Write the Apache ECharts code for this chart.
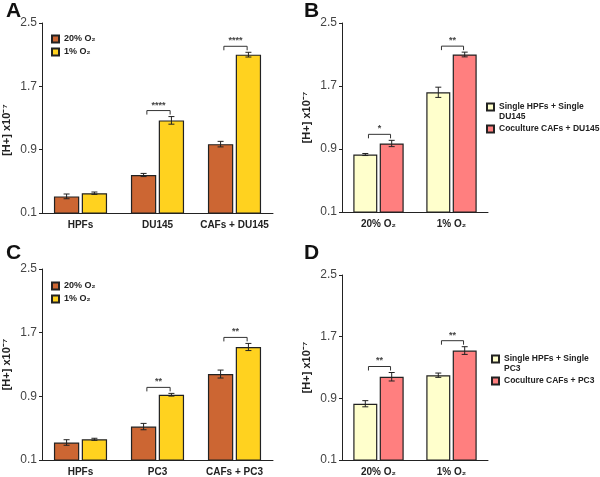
<!DOCTYPE html>
<html>
<head>
<meta charset="utf-8">
<script src="https://cdn.jsdelivr.net/npm/echarts@6/dist/echarts.min.js"></script>
<style>
  html, body { margin: 0; padding: 0; background: #fff; }
  #chart { width: 600px; height: 477px; }
</style>
</head>
<body>
<div id="chart"></div>
<script>
// categories
const du145Groups = ['HPFs', 'DU145', 'CAFs + DU145'];
const pc3Groups = ['HPFs', 'PC3', 'CAFs + PC3'];
const oxygenGroups = ['20% O₂', '1% O₂'];
const yTickValues = [0.1, 0.9, 1.7, 2.5];

// panel A
const aNormoxia = [0.31, 0.58, 0.97];
const aNormoxiaErr = [0.03, 0.02, 0.035];
const aHypoxia = [0.35, 1.27, 2.10];
const aHypoxiaErr = [0.015, 0.048, 0.03];
const aSig = ['', '****', '****'];

// panel B
const bSingle = [0.83, 1.62];
const bSingleErr = [0.013, 0.065];
const bCoculture = [0.97, 2.10];
const bCocultureErr = [0.04, 0.03];
const bSig = ['*', '**'];

// panel C
const cNormoxia = [0.32, 0.52, 1.18];
const cNormoxiaErr = [0.035, 0.04, 0.05];
const cHypoxia = [0.36, 0.92, 1.52];
const cHypoxiaErr = [0.013, 0.017, 0.045];
const cSig = ['', '**', '**'];

// panel D
const dSingle = [0.83, 1.20];
const dSingleErr = [0.04, 0.028];
const dCoculture = [1.18, 1.52];
const dCocultureErr = [0.055, 0.05];
const dSig = ['**', '**'];

const FONT = 'Liberation Sans, Arial, sans-serif';
const CAT_GAP = 0.31;
const BAR_GAP = 0.1;
const ORANGE = '#CC6633';
const YELLOW = '#FFD21F';
const PALE = '#FFFFCC';
const SALMON = '#FF7F7F';

const grids = [
  {left: 42, top: 23, width: 231, height: 190},
  {left: 342, top: 23, width: 146, height: 189},
  {left: 42, top: 269, width: 231, height: 192},
  {left: 342, top: 275, width: 146, height: 187}
];

function barGeom(api) {
  const band = api.size([1, 0])[0];
  const bw = band * (1 - CAT_GAP) / (2 + BAR_GAP);
  return {bw: bw, off: bw * (1 + BAR_GAP) / 2};
}

function renderError(params, api) {
  const g = barGeom(api);
  const cat = api.value(0), mean = api.value(1), err = api.value(2), slot = api.value(3);
  const hi = api.coord([cat, mean + err]);
  const lo = api.coord([cat, mean - err]);
  const x = hi[0] + (slot === 0 ? -g.off : g.off);
  const st = {stroke: '#222', lineWidth: 1};
  return {
    type: 'group',
    children: [
      {type: 'line', shape: {x1: x, y1: hi[1], x2: x, y2: lo[1]}, style: st},
      {type: 'line', shape: {x1: x - 3, y1: hi[1], x2: x + 3, y2: hi[1]}, style: st},
      {type: 'line', shape: {x1: x - 3, y1: lo[1], x2: x + 3, y2: lo[1]}, style: st}
    ]
  };
}

function renderBracket(params, api) {
  const g = barGeom(api);
  const cat = api.value(0), top = api.value(1);
  const p = api.coord([cat, top]);
  const cx = p[0] + 1;
  const half = g.bw * 0.46;
  const y = p[1] - 6;
  const st = {stroke: '#333', lineWidth: 1, fill: null};
  return {
    type: 'group',
    children: [
      {type: 'polyline', shape: {points: [[cx - half, y + 4], [cx - half, y], [cx + half, y], [cx + half, y + 4]]}, style: st},
      {type: 'text', style: {text: api.value(2), x: cx, y: y - 1, align: 'center', verticalAlign: 'bottom',
        fontSize: 9, fontWeight: 'bold', fill: '#444', fontFamily: FONT}}
    ]
  };
}

function panelSeries(idx, names, colors, valsA, errA, valsB, errB, sig) {
  const out = [];
  [[valsA, names[0], colors[0]], [valsB, names[1], colors[1]]].forEach(function (s) {
    out.push({
      type: 'bar', name: s[1], xAxisIndex: idx, yAxisIndex: idx,
      data: s[0], barCategoryGap: (CAT_GAP * 100) + '%', barGap: (BAR_GAP * 100) + '%',
      itemStyle: {color: s[2], borderColor: '#222', borderWidth: 1.2},
      emphasis: {disabled: true}
    });
  });
  const errData = [];
  valsA.forEach(function (v, i) {
    errData.push([i, v, errA[i], 0]);
    errData.push([i, valsB[i], errB[i], 1]);
  });
  out.push({
    type: 'custom', xAxisIndex: idx, yAxisIndex: idx, z: 5, silent: true,
    renderItem: renderError, encode: {x: 0, y: 1}, data: errData
  });
  const brData = [];
  sig.forEach(function (s, i) {
    if (s) brData.push([i, Math.max(valsA[i] + errA[i], valsB[i] + errB[i]), s]);
  });
  out.push({
    type: 'custom', xAxisIndex: idx, yAxisIndex: idx, z: 5, silent: true,
    renderItem: renderBracket, encode: {x: 0, y: 1}, data: brData
  });
  return out;
}

function xAxisFor(idx, cats) {
  return {
    type: 'category', gridIndex: idx, data: cats,
    axisLine: {lineStyle: {color: '#222', width: 1}},
    axisTick: {length: 4, lineStyle: {color: '#222'}},
    axisLabel: {fontFamily: FONT, fontSize: 10, fontWeight: 'bold', color: '#222', margin: 7, interval: 0}
  };
}

function yAxisFor(idx, pad) {
  return {
    type: 'value', gridIndex: idx, min: 0.1, max: 2.5,
    name: '[H+] x10⁻⁷', nameLocation: 'middle', nameGap: 30,
    nameTextStyle: {fontFamily: FONT, fontSize: 11, fontWeight: 'bold', color: '#222', padding: pad},
    axisLine: {show: true, lineStyle: {color: '#222', width: 1}},
    axisTick: {show: true, length: 3, customValues: yTickValues, lineStyle: {color: '#222'}},
    axisLabel: {customValues: yTickValues, fontFamily: FONT, fontSize: 12, color: '#444', margin: 5,
      formatter: function (v) { return v.toFixed(1); }},
    splitLine: {show: false}
  };
}

// long legend names wrap onto a second line; the blank first line keeps
// the icon level with the first line of text
const wrapNames = {
  'Single HPFs + Single DU145': '\nSingle HPFs + Single\nDU145',
  'Single HPFs + Single PC3': '\nSingle HPFs + Single\nPC3'
};

function legendFor(left, top, names, gap, size) {
  return {
    orient: 'vertical', left: left, top: top, padding: 0, itemGap: gap,
    itemWidth: 7, itemHeight: 7, icon: 'rect',
    selectedMode: false,
    data: names,
    formatter: function (n) { return wrapNames[n] || n; },
    textStyle: {fontFamily: FONT, fontSize: size, fontWeight: 'bold', color: '#222', lineHeight: 10}
  };
}

const chart = echarts.init(document.getElementById('chart'));

const bNames = ['Single HPFs + Single DU145', 'Coculture CAFs + DU145'];
const dNames = ['Single HPFs + Single PC3', 'Coculture CAFs + PC3'];

const option = {
  animation: false,
  backgroundColor: '#fff',
  title: [
    {text: 'A', left: 1, top: -4},
    {text: 'B', left: 299, top: -4},
    {text: 'C', left: 1, top: 238},
    {text: 'D', left: 299, top: 238}
  ].map(function (t) {
    t.textStyle = {fontFamily: FONT, fontSize: 21, fontWeight: 'bold', color: '#111'};
    return t;
  }),
  legend: [
    legendFor(51, 34, oxygenGroups, 3, 9),
    legendFor(486, 92, bNames, 2, 8.5),
    legendFor(51, 281, oxygenGroups, 3, 9),
    legendFor(491, 344, dNames, 2, 8.5)
  ],
  grid: grids,
  xAxis: [
    xAxisFor(0, du145Groups),
    xAxisFor(1, oxygenGroups),
    xAxisFor(2, pc3Groups),
    xAxisFor(3, oxygenGroups)
  ],
  yAxis: [
    yAxisFor(0, [0, 24, 0, 0]),
    yAxisFor(1, [0, 0, 0, 0]),
    yAxisFor(2, [0, 0, 0, 0]),
    yAxisFor(3, [0, 0, 0, 0])
  ],
  series: [].concat(
    panelSeries(0, oxygenGroups, [ORANGE, YELLOW], aNormoxia, aNormoxiaErr, aHypoxia, aHypoxiaErr, aSig),
    panelSeries(1, bNames, [PALE, SALMON], bSingle, bSingleErr, bCoculture, bCocultureErr, bSig),
    panelSeries(2, oxygenGroups, [ORANGE, YELLOW], cNormoxia, cNormoxiaErr, cHypoxia, cHypoxiaErr, cSig),
    panelSeries(3, dNames, [PALE, SALMON], dSingle, dSingleErr, dCoculture, dCocultureErr, dSig)
  )
};

chart.setOption(option);
</script>
</body>
</html>
